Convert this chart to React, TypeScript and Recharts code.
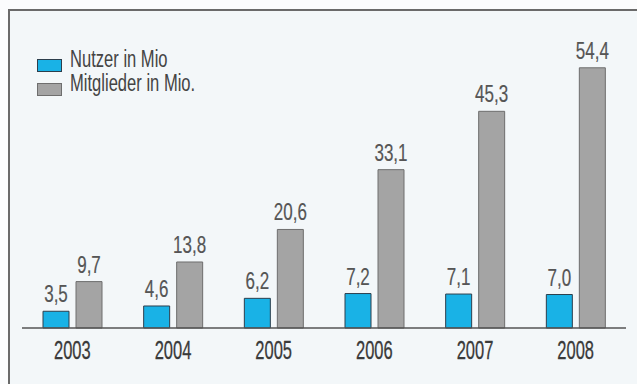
import React from 'react';
import { BarChart, Bar, XAxis, YAxis, LabelList } from 'recharts';

const years = ['2003', '2004', '2005', '2006', '2007', '2008'];
const nutzer = [3.5, 4.6, 6.2, 7.2, 7.1, 7.0];
const mitglieder = [9.7, 13.8, 20.6, 33.1, 45.3, 54.4];
const seriesNames = ['Nutzer in Mio', 'Mitglieder in Mio.'];
const seriesColors = ['#19b2e6', '#a4a4a4'];
const seriesStrokes = ['#2c3e4c', '#6e6e6e'];

const data = years.map((y, i) => ({ year: y, nutzer: nutzer[i], mitglieder: mitglieder[i] }));

const FONT = '"Liberation Sans", Arial, sans-serif';

const fmt = (v: number) => v.toFixed(1).replace('.', ',');

const ValueLabel = (props: any) => {
  const { x, y, width, value } = props;
  return (
    <text
      transform={`translate(${x + width / 2},${y - 9}) scale(0.74,1)`}
      textAnchor="middle"
      fontFamily={FONT}
      fontSize={23}
      fill="#555"
      stroke="#555"
      strokeWidth={0.2}
    >
      {fmt(Number(value))}
    </text>
  );
};

const YearTick = (props: any) => {
  const { x, y, payload } = props;
  return (
    <text
      transform={`translate(${x},${y + 31}) scale(0.66,1)`}
      textAnchor="middle"
      fontFamily={FONT}
      fontSize={25}
      fill="#3a3a3a"
      stroke="#3a3a3a"
      strokeWidth={0.3}
    >
      {payload.value}
    </text>
  );
};

const LegendBox = () => (
  <div style={{ position: 'absolute', left: 0, top: 0, width: 300, height: 100, pointerEvents: 'none' }}>
    {seriesNames.map((name, i) => (
      <div key={name} style={{ position: 'absolute', left: 37, top: 59 + i * 24, height: 12 }}>
        <div
          style={{
            position: 'absolute',
            left: 0,
            top: 0,
            width: 23,
            height: 11,
            background: seriesColors[i],
            border: `1px solid ${seriesStrokes[i]}`,
          }}
        />
        <div
          style={{
            position: 'absolute',
            left: 33,
            top: -14,
            fontFamily: FONT,
            fontSize: 23,
            lineHeight: '28px',
            color: '#444',
            whiteSpace: 'nowrap',
            transform: 'scaleX(0.72)',
            transformOrigin: 'left center',
          }}
        >
          {name}
        </div>
      </div>
    ))}
  </div>
);

export default function App() {
  return (
    <div style={{ position: 'absolute', left: 0, top: 0, width: 637, height: 384, background: '#fbfcfd', overflow: 'hidden' }}>
      <div
        style={{
          position: 'absolute',
          left: 8,
          top: 9,
          width: 640,
          height: 390,
          borderTop: '2px solid #6a6a6a',
          borderLeft: '2px solid #6a6a6a',
          background: '#f3f7f9',
        }}
      />
      <div style={{ position: 'absolute', left: 0, top: 0 }}>
        <BarChart
          width={637}
          height={384}
          data={data}
          margin={{ top: 41, right: 11, bottom: 16, left: 22 }}
          barSize={26}
          barGap={7}
        >
          <XAxis
            dataKey="year"
            height={40}
            tickLine={false}
            tickSize={0}
            tickMargin={0}
            axisLine={{ stroke: '#555', strokeWidth: 1.5 }}
            tick={<YearTick />}
            interval={0}
          />
          <YAxis hide domain={[0, 60]} />
          <Bar
            dataKey="nutzer"
            name={seriesNames[0]}
            fill={seriesColors[0]}
            stroke={seriesStrokes[0]}
            strokeWidth={1}
            isAnimationActive={false}
          >
            <LabelList dataKey="nutzer" content={<ValueLabel />} />
          </Bar>
          <Bar
            dataKey="mitglieder"
            name={seriesNames[1]}
            fill={seriesColors[1]}
            stroke={seriesStrokes[1]}
            strokeWidth={1}
            isAnimationActive={false}
          >
            <LabelList dataKey="mitglieder" content={<ValueLabel />} />
          </Bar>
        </BarChart>
      </div>
      <LegendBox />
    </div>
  );
}
